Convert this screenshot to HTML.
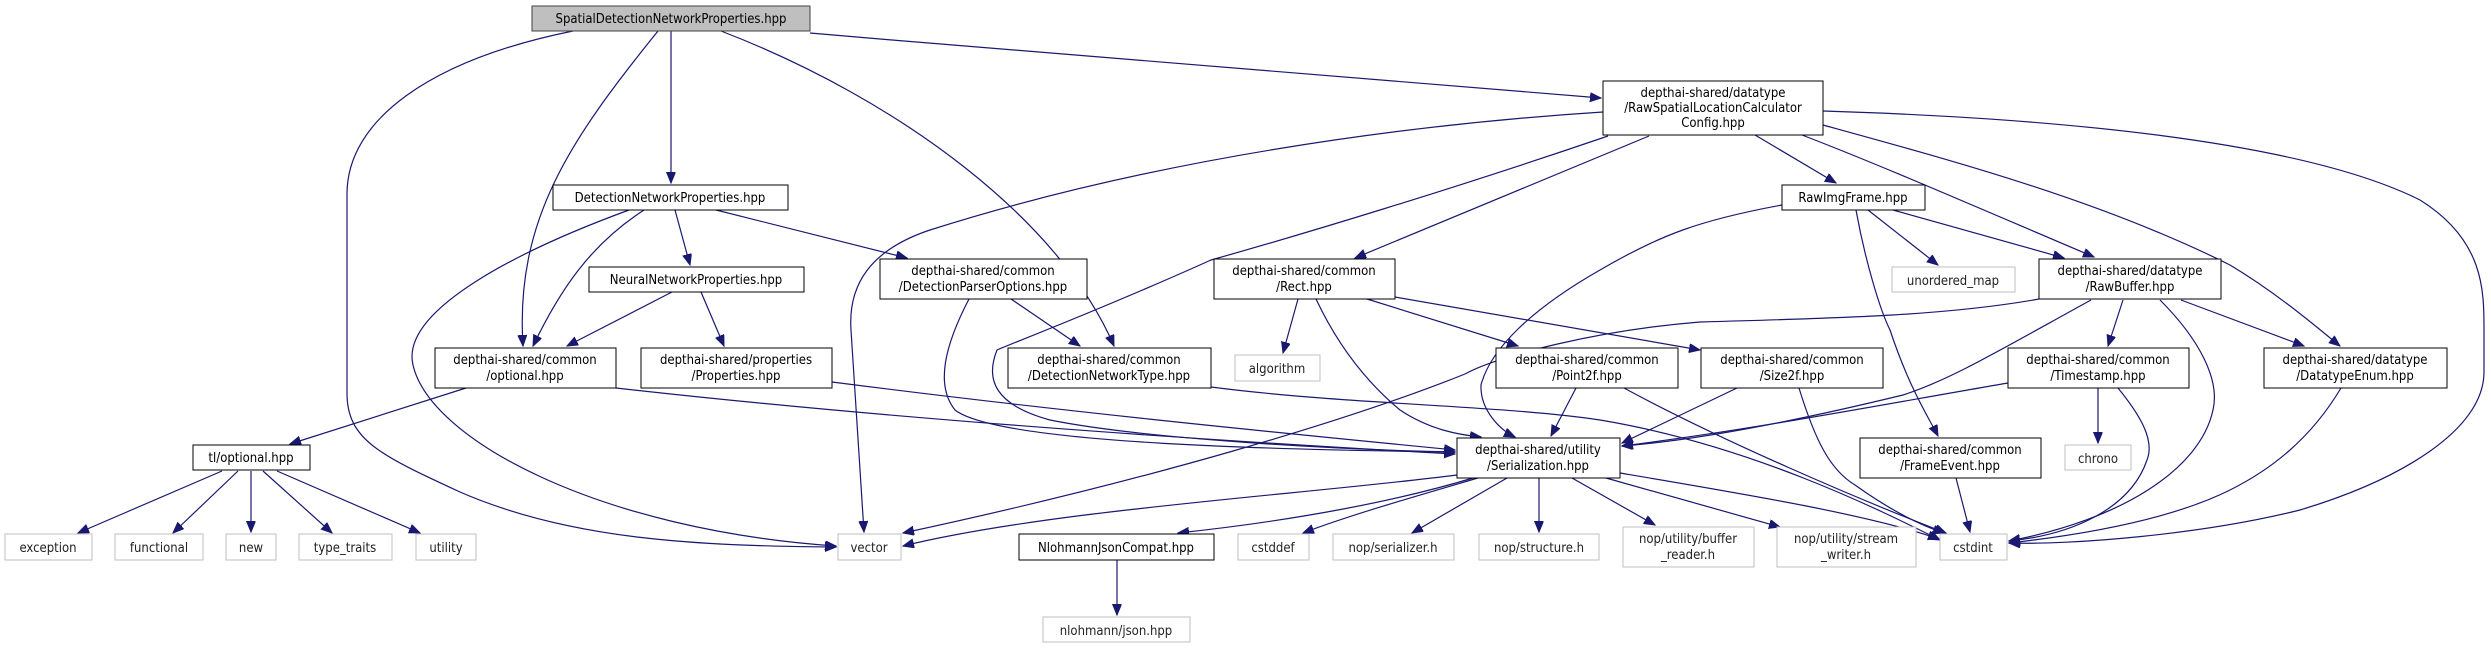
<!DOCTYPE html>
<html><head><meta charset="utf-8"><style>
html,body{margin:0;padding:0;background:#fff;}
svg{display:block;}
text{font-family:"DejaVu Sans Condensed","DejaVu Sans","Liberation Sans",sans-serif;font-size:13px;text-anchor:middle;fill:#000;}
.g text,text.g{fill:#222;}
.e{fill:none;stroke:#191970;stroke-width:1.2;marker-end:url(#a);}
</style></head><body>
<svg width="2491" height="648" viewBox="0 0 2491 648" xmlns="http://www.w3.org/2000/svg">
<defs><marker id="a" markerUnits="userSpaceOnUse" markerWidth="12" markerHeight="10" refX="11" refY="4.5" orient="auto"><path d="M0,0 L11,4.5 L0,9 Z" fill="#191970" stroke="#191970"/></marker></defs>
<!-- edges -->
<g>
<path class="e" d="M573,31 C430,60 347,120 347,194 L347,393 C347,440 380,455 460,492 C570,540 700,546 836,547"/>
<path class="e" d="M658,31 C570,140 515,220 523,346"/>
<path class="e" d="M671,31 L671,183"/>
<path class="e" d="M721,31 C900,100 1060,220 1114,346"/>
<path class="e" d="M810,33 C1100,58 1400,82 1601,98"/>
<path class="e" d="M629,210 C520,250 400,310 413,365 C430,440 600,530 836,546"/>
<path class="e" d="M644,210 C590,245 560,290 533,346"/>
<path class="e" d="M675,210 L690,265"/>
<path class="e" d="M716,210 L907,258"/>
<path class="e" d="M672,292 L567,346"/>
<path class="e" d="M701,292 L724,346"/>
<path class="e" d="M466,388 L290,444"/>
<path class="e" d="M616,388 C900,420 1200,440 1455,454"/>
<path class="e" d="M832,382 C1050,410 1250,430 1455,450"/>
<path class="e" d="M222,471 L78,533"/>
<path class="e" d="M238,471 L173,533"/>
<path class="e" d="M251,471 L251,532"/>
<path class="e" d="M263,471 L332,533"/>
<path class="e" d="M277,471 L420,533"/>
<path class="e" d="M1011,299 L1080,346"/>
<path class="e" d="M969,299 C945,345 935,385 955,410 C1000,445 1300,450 1455,452"/>
<path class="e" d="M1211,387 C1350,405 1500,405 1600,420 C1750,445 1880,510 1940,540"/>
<path class="e" d="M1603,112 C1400,125 1150,160 930,230 C870,250 848,285 851,330 L864,532"/>
<path class="e" d="M1608,136 C1450,190 1300,235 1211,260 C1100,310 1020,340 997,350 C985,380 995,405 1050,420 C1150,440 1350,450 1455,452"/>
<path class="e" d="M1649,136 L1355,258"/>
<path class="e" d="M1755,135 L1836,183"/>
<path class="e" d="M1802,135 C1880,165 1960,200 2094,257"/>
<path class="e" d="M1823,125 C1950,160 2100,200 2230,265 C2280,295 2320,330 2340,346"/>
<path class="e" d="M1823,111 C2050,118 2300,140 2420,200 C2484,240 2484,290 2484,330 L2484,372 C2484,430 2400,480 2300,510 C2200,535 2070,545 2009,543"/>
<path class="e" d="M1782,205 C1700,220 1660,235 1600,270 C1530,310 1490,350 1481,385 C1480,410 1500,430 1515,437"/>
<path class="e" d="M1868,210 L1938,265"/>
<path class="e" d="M1893,210 L2064,258"/>
<path class="e" d="M1856,210 C1865,260 1880,310 1890,330 C1910,390 1930,420 1938,436"/>
<path class="e" d="M1298,299 L1283,353"/>
<path class="e" d="M1316,299 C1340,350 1370,385 1400,410 C1430,430 1460,435 1481,437"/>
<path class="e" d="M1367,299 L1518,346"/>
<path class="e" d="M1395,297 L1700,350"/>
<path class="e" d="M2039,299 C1950,315 1850,318 1700,322 C1600,330 1500,355 1465,374 C1350,420 1150,480 903,533"/>
<path class="e" d="M2091,300 C2000,350 1950,380 1903,395 C1800,420 1700,440 1622,446"/>
<path class="e" d="M2123,300 L2108,346"/>
<path class="e" d="M2160,300 C2200,340 2220,380 2213,410 C2200,470 2120,520 2009,541"/>
<path class="e" d="M2181,300 L2304,346"/>
<path class="e" d="M1576,388 L1551,436"/>
<path class="e" d="M1624,388 C1720,440 1860,500 1946,533"/>
<path class="e" d="M1737,388 L1622,443"/>
<path class="e" d="M1799,388 C1815,440 1830,470 1855,485 C1890,510 1920,525 1944,533"/>
<path class="e" d="M2008,383 C1880,405 1750,430 1622,446"/>
<path class="e" d="M2098,388 L2098,443"/>
<path class="e" d="M2118,388 C2140,415 2155,440 2147,460 C2130,510 2070,535 2009,541"/>
<path class="e" d="M2341,388 C2310,440 2270,470 2230,490 C2170,520 2080,535 2009,543"/>
<path class="e" d="M1956,478 L1970,532"/>
<path class="e" d="M1457,475 C1300,495 1050,510 903,546"/>
<path class="e" d="M1473,478 C1400,500 1300,520 1178,533"/>
<path class="e" d="M1478,478 C1420,495 1350,515 1303,533"/>
<path class="e" d="M1507,478 L1412,533"/>
<path class="e" d="M1539,478 L1539,532"/>
<path class="e" d="M1572,478 L1655,525"/>
<path class="e" d="M1606,478 L1780,527"/>
<path class="e" d="M1620,473 C1750,495 1870,515 1939,539"/>
<path class="e" d="M1117,560 L1117,615"/>
</g>
<!-- nodes -->
<g stroke-width="1">
<rect x="532" y="6" width="278" height="25" fill="#bfbfbf" stroke="#404040"/>
<text x="671" y="23">SpatialDetectionNetworkProperties.hpp</text>
<rect x="553" y="185" width="235" height="25" fill="#fff" stroke="#000"/>
<text x="670" y="202">DetectionNetworkProperties.hpp</text>
<rect x="589" y="267" width="215" height="25" fill="#fff" stroke="#000"/>
<text x="696" y="284">NeuralNetworkProperties.hpp</text>
<rect x="435" y="348" width="181" height="40" fill="#fff" stroke="#000"/>
<text x="525" y="364">depthai-shared/common</text><text x="525" y="380">/optional.hpp</text>
<rect x="641" y="348" width="191" height="40" fill="#fff" stroke="#000"/>
<text x="736" y="364">depthai-shared/properties</text><text x="736" y="380">/Properties.hpp</text>
<rect x="193" y="445" width="117" height="25" fill="#fff" stroke="#000"/>
<text x="251" y="462">tl/optional.hpp</text>
<g fill="#fff" stroke="#bfbfbf">
<rect x="5" y="534" width="87" height="26"/><rect x="115" y="534" width="88" height="26"/><rect x="226" y="534" width="50" height="26"/><rect x="299" y="534" width="93" height="26"/><rect x="416" y="534" width="60" height="26"/>
<rect x="838" y="534" width="63" height="26"/><rect x="1238" y="534" width="71" height="26"/><rect x="1333" y="534" width="121" height="26"/><rect x="1479" y="534" width="120" height="26"/>
<rect x="1623" y="527" width="131" height="40"/><rect x="1777" y="527" width="139" height="40"/><rect x="1940" y="534" width="67" height="26"/>
<rect x="1043" y="617" width="147" height="25"/><rect x="1235" y="355" width="85" height="26"/><rect x="1892" y="267" width="123" height="25"/><rect x="2065" y="445" width="66" height="25"/>
</g>
<g class="g">
<text x="48" y="552">exception</text><text x="159" y="552">functional</text><text x="251" y="552">new</text><text x="345" y="552">type_traits</text><text x="446" y="552">utility</text>
<text x="869" y="552">vector</text><text x="1273" y="552">cstddef</text><text x="1393" y="552">nop/serializer.h</text><text x="1539" y="552">nop/structure.h</text>
<text x="1688" y="543">nop/utility/buffer</text><text x="1688" y="559">_reader.h</text>
<text x="1846" y="543">nop/utility/stream</text><text x="1846" y="559">_writer.h</text>
<text x="1973" y="552">cstdint</text><text x="1116" y="635">nlohmann/json.hpp</text><text x="1277" y="373">algorithm</text>
<text x="1953" y="285">unordered_map</text><text x="2098" y="463">chrono</text>
</g>
<rect x="1603" y="81" width="220" height="54" fill="#fff" stroke="#000"/>
<text x="1713" y="97">depthai-shared/datatype</text><text x="1713" y="112">/RawSpatialLocationCalculator</text><text x="1713" y="127">Config.hpp</text>
<rect x="880" y="259" width="207" height="40" fill="#fff" stroke="#000"/>
<text x="983" y="275">depthai-shared/common</text><text x="983" y="291">/DetectionParserOptions.hpp</text>
<rect x="1214" y="259" width="181" height="40" fill="#fff" stroke="#000"/>
<text x="1304" y="275">depthai-shared/common</text><text x="1304" y="291">/Rect.hpp</text>
<rect x="1008" y="348" width="203" height="40" fill="#fff" stroke="#000"/>
<text x="1109" y="364">depthai-shared/common</text><text x="1109" y="380">/DetectionNetworkType.hpp</text>
<rect x="1496" y="348" width="182" height="40" fill="#fff" stroke="#000"/>
<text x="1587" y="364">depthai-shared/common</text><text x="1587" y="380">/Point2f.hpp</text>
<rect x="1457" y="438" width="163" height="40" fill="#fff" stroke="#000"/>
<text x="1538" y="454">depthai-shared/utility</text><text x="1538" y="470">/Serialization.hpp</text>
<rect x="1019" y="534" width="195" height="26" fill="#fff" stroke="#000"/>
<text x="1116" y="552">NlohmannJsonCompat.hpp</text>
<rect x="1782" y="185" width="143" height="25" fill="#fff" stroke="#000"/>
<text x="1853" y="202">RawImgFrame.hpp</text>
<rect x="2039" y="259" width="182" height="40" fill="#fff" stroke="#000"/>
<text x="2130" y="275">depthai-shared/datatype</text><text x="2130" y="291">/RawBuffer.hpp</text>
<rect x="1701" y="348" width="182" height="40" fill="#fff" stroke="#000"/>
<text x="1792" y="364">depthai-shared/common</text><text x="1792" y="380">/Size2f.hpp</text>
<rect x="2008" y="348" width="181" height="40" fill="#fff" stroke="#000"/>
<text x="2098" y="364">depthai-shared/common</text><text x="2098" y="380">/Timestamp.hpp</text>
<rect x="2264" y="348" width="183" height="40" fill="#fff" stroke="#000"/>
<text x="2355" y="364">depthai-shared/datatype</text><text x="2355" y="380">/DatatypeEnum.hpp</text>
<rect x="1860" y="438" width="181" height="40" fill="#fff" stroke="#000"/>
<text x="1950" y="454">depthai-shared/common</text><text x="1950" y="470">/FrameEvent.hpp</text>
</g>
</svg>
</body></html>
